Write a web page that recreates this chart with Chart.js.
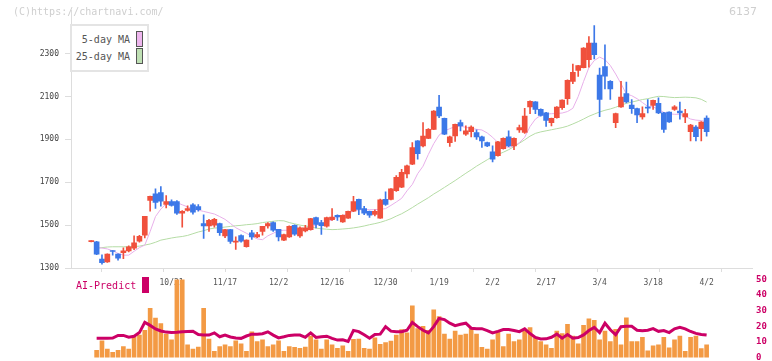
<!DOCTYPE html>
<html>
<head>
<meta charset="utf-8">
<script src="https://cdn.jsdelivr.net/npm/chart.js@4.4.1/dist/chart.umd.min.js"></script>
<style>
  body { margin: 0; background: #fff; }
  #wrap { position: relative; width: 772px; height: 361px; overflow: hidden; font-family: "DejaVu Sans Mono", monospace; }
  #wrap canvas { position: absolute; left: 0; }
  #priceChart { top: 0; }
  #volChart { top: 270px; }
  .txt { position: absolute; white-space: nowrap; font-size: 10px; line-height: 12px; }
  .sw { position: absolute; box-sizing: border-box; }
</style>
</head>
<body>
<div id="wrap">
  <canvas id="priceChart" width="772" height="300"></canvas>
  <canvas id="volChart" width="772" height="97"></canvas>

  <div class="txt" style="left:13px; top:6px; color:#cfcfcf;">(C)https://chartnavi.com/</div>
  <div class="txt" style="right:15px; top:6px; color:#cfcfcf; font-family:'DejaVu Sans', sans-serif; font-size:11px;">6137</div>

  <div class="sw" style="left:70px; top:24px; width:79px; height:48px; border:2px solid #e4e4e4; background:#fff;"></div>
  <div class="txt" style="left:70px; width:60px; text-align:right; top:34px; color:#555;">5-day MA</div>
  <div class="sw" style="left:136px; top:31px; width:7px; height:16px; background:#eeb6ee; border:1px solid #555;"></div>
  <div class="txt" style="left:70px; width:60px; text-align:right; top:51px; color:#555;">25-day MA</div>
  <div class="sw" style="left:136px; top:48px; width:7px; height:16px; background:#bfe0b4; border:1px solid #555;"></div>

  <div class="txt" style="left:76px; top:280px; color:#cc0066;">AI-Predict</div>
  <div class="sw" style="left:142px; top:277px; width:7px; height:16px; background:#cc0066;"></div>
</div>
<script>
// date labels (every 10 sessions) and where they sit
const tickIdx = [15, 25, 35, 45, 55, 65, 75, 85, 95, 105, 115];
const tickLabels = ['10/31', '11/17', '12/2', '12/16', '12/30', '1/19', '2/2', '2/17', '3/4', '3/18', '4/2'];
const priceTicks = [1300, 1500, 1700, 1900, 2100, 2300];
const volTicks = [0, 10, 20, 30, 40, 50];

const opens = [1423, 1422, 1342, 1328, 1380, 1365, 1371, 1380, 1393, 1425,
  1453, 1615, 1646, 1652, 1597, 1610, 1610, 1556, 1569, 1595,
  1587, 1507, 1496, 1500, 1507, 1450, 1479, 1421, 1451, 1399,
  1464, 1445, 1471, 1496, 1512, 1481, 1430, 1445, 1499, 1450,
  1473, 1479, 1535, 1512, 1495, 1526, 1546, 1515, 1533, 1565,
  1620, 1577, 1564, 1550, 1533, 1620, 1620, 1661, 1677, 1739,
  1785, 1893, 1870, 1905, 1947, 2051, 1998, 1885, 1916, 1978,
  1924, 1936, 1932, 1912, 1885, 1842, 1824, 1857, 1912, 1870,
  1944, 1932, 2051, 2075, 2040, 2024, 1978, 2001, 2048, 2090,
  2171, 2222, 2235, 2272, 2349, 2200, 2240, 2171, 1978, 2051,
  2114, 2060, 2044, 2005, 2049, 2058, 2068, 2024, 2027, 2040,
  2032, 2005, 1936, 1958, 1950, 2000];
const closes = [1427, 1365, 1325, 1365, 1377, 1346, 1380, 1399, 1417, 1448,
  1541, 1634, 1606, 1612, 1610, 1592, 1556, 1564, 1577, 1561,
  1572, 1496, 1522, 1527, 1465, 1479, 1424, 1425, 1425, 1430,
  1445, 1456, 1495, 1507, 1476, 1445, 1456, 1495, 1458, 1488,
  1488, 1530, 1503, 1498, 1535, 1538, 1538, 1546, 1564, 1610,
  1573, 1556, 1546, 1564, 1618, 1597, 1669, 1723, 1746, 1777,
  1862, 1834, 1916, 1947, 2032, 2009, 1924, 1912, 1970, 1963,
  1940, 1958, 1912, 1893, 1870, 1808, 1889, 1905, 1870, 1905,
  1955, 2009, 2078, 2040, 2012, 1989, 1998, 2051, 2083, 2176,
  2213, 2244, 2326, 2349, 2295, 2087, 2195, 2136, 2021, 2097,
  2075, 2043, 2014, 2020, 2046, 2082, 2024, 1947, 1981, 2052,
  2024, 2021, 1967, 1913, 1981, 1936];
const highs = [1428, 1425, 1362, 1366, 1381, 1366, 1394, 1404, 1450, 1452,
  1541, 1636, 1669, 1680, 1638, 1618, 1615, 1568, 1590, 1600,
  1596, 1548, 1527, 1532, 1510, 1481, 1481, 1445, 1455, 1432,
  1476, 1467, 1495, 1512, 1515, 1481, 1458, 1497, 1501, 1492,
  1499, 1532, 1537, 1522, 1537, 1577, 1548, 1548, 1566, 1634,
  1622, 1588, 1566, 1571, 1622, 1655, 1671, 1731, 1760, 1780,
  1885, 1895, 1978, 1950, 2034, 2106, 2000, 1915, 1972, 1990,
  1963, 1963, 1945, 1915, 1887, 1870, 1891, 1907, 1940, 1907,
  1967, 2045, 2080, 2077, 2043, 2026, 2000, 2053, 2085, 2178,
  2251, 2246, 2328, 2380, 2431, 2233, 2341, 2175, 2023, 2171,
  2167, 2086, 2046, 2052, 2086, 2084, 2094, 2026, 2029, 2058,
  2074, 2040, 1970, 1965, 1983, 2010];
const lows = [1422, 1362, 1318, 1326, 1360, 1337, 1343, 1375, 1385, 1420,
  1440, 1565, 1578, 1588, 1580, 1588, 1550, 1491, 1565, 1551,
  1565, 1438, 1471, 1490, 1452, 1441, 1415, 1387, 1420, 1397,
  1433, 1441, 1453, 1486, 1471, 1426, 1428, 1443, 1452, 1443,
  1468, 1477, 1487, 1457, 1490, 1522, 1522, 1513, 1531, 1563,
  1549, 1549, 1536, 1543, 1531, 1592, 1618, 1657, 1675, 1720,
  1782, 1808, 1865, 1903, 1945, 2001, 1922, 1867, 1890, 1940,
  1918, 1912, 1900, 1862, 1866, 1795, 1822, 1855, 1866, 1852,
  1932, 1928, 2020, 2020, 2008, 1960, 1963, 1999, 2040, 2063,
  2160, 2194, 2233, 2237, 2275, 2006, 2136, 2086, 1955, 2049,
  2070, 2021, 1978, 1994, 2024, 2040, 2020, 1932, 1979, 2035,
  1994, 1978, 1893, 1893, 1893, 1915];

const ma5 = [null, 1396, 1393, 1389, 1380, 1368, 1360, 1360, 1378, 1395,
  1407, 1470, 1540, 1575, 1600, 1607, 1605, 1595, 1585, 1577,
  1570, 1564, 1558, 1552, 1540, 1527, 1508, 1488, 1475, 1462,
  1448, 1436, 1432, 1450, 1462, 1474, 1476, 1476, 1477, 1479,
  1485, 1491, 1500, 1508, 1515, 1524, 1537, 1545, 1555, 1565,
  1572, 1572, 1572, 1572, 1574, 1577, 1592, 1608, 1625, 1660,
  1690, 1740, 1775, 1830, 1880, 1920, 1940, 1950, 1960, 1962,
  1956, 1952, 1947, 1944, 1930, 1910, 1885, 1870, 1862, 1868,
  1885, 1910, 1960, 1995, 2012, 2018, 2020, 2021, 2023, 2030,
  2045, 2100, 2170, 2235, 2268, 2284, 2272, 2245, 2205, 2160,
  2112, 2104, 2090, 2072, 2054, 2052, 2040, 2026, 2020, 2017,
  2017, 2008, 1995, 1990, 1988, 1981];
const ma25 = [null, 1392, 1395, 1398, 1399, 1399, 1399, 1399, 1400, 1402,
  1407, 1412, 1420, 1430, 1435, 1440, 1444, 1447, 1452, 1460,
  1468, 1474, 1482, 1486, 1488, 1491, 1494, 1497, 1499, 1502,
  1504, 1507, 1512, 1515, 1518, 1521, 1520, 1512, 1506, 1500,
  1496, 1492, 1486, 1483, 1481, 1479, 1480, 1482, 1484, 1487,
  1491, 1496, 1502, 1507, 1513, 1521, 1530, 1542, 1553, 1567,
  1582, 1598, 1613, 1628, 1645, 1660, 1676, 1692, 1708, 1725,
  1742, 1758, 1775, 1790, 1805, 1820, 1830, 1840, 1852, 1866,
  1882, 1898, 1915, 1928, 1935, 1940, 1945, 1950, 1955, 1962,
  1972, 1983, 1995, 2008, 2018, 2028, 2036, 2042, 2050, 2060,
  2068, 2074, 2080, 2086, 2090, 2096, 2101, 2100, 2097, 2095,
  2096, 2097, 2096, 2094, 2087, 2074];

const volume = [null, 4.6, 10.8, 5.4, 3.3, 4.6, 7.1, 5.4, 13.3, 14.4,
  17.5, 31.5, 25.2, 21.7, 15, 11.3, 60, 60, 8.1, 5.4,
  6.7, 31.5, 11.9, 4, 7.1, 8.1, 7.1, 10.8, 8.8, 4,
  16.5, 10.2, 11.3, 7.1, 8.1, 10.8, 4, 7.1, 6.5, 6,
  6.7, 13.8, 11.3, 5.4, 11.3, 8.1, 6, 7.5, 4, 11.7,
  11.9, 6, 5.4, 12.7, 8.5, 9.6, 10.6, 14.4, 17.9, 15.8,
  33.1, 18.5, 20, 17.5, 30.6, 26.3, 15, 11.9, 16.9, 14.4,
  15, 18.5, 15, 6.5, 5.4, 11.3, 16.9, 7.1, 15, 10.2,
  11.3, 16.9, 19.2, 12.7, 10.2, 8.1, 6, 16.9, 15.4, 21.3,
  13.8, 8.8, 20.6, 24.8, 23.8, 11.3, 16.9, 10.2, 18.1, 8.1,
  25.4, 10.2, 10.2, 12.9, 4.4, 7.5, 8.1, 12.9, 6.3, 11.3,
  13.8, 4, 12.9, 13.8, 5.8, 8.1];
const aiPredict = [null, 12.3, 12.3, 12.3, 12.5, 14.2, 14.2, 13, 13.6, 16,
  22.5, 20.6, 18.3, 17, 16.3, 16, 16.2, 16.5, 16.7, 16.9,
  14.8, 14.4, 14.4, 15.8, 13.3, 14.4, 13.2, 12.6, 12.3, 13.8,
  15, 15, 15.3, 16.5, 14.4, 12.6, 13.3, 14.2, 14.4, 14.4,
  13, 15.8, 12.9, 13.4, 13.7, 12.3, 11.2, 11.4, 10.3, 17.4,
  16.6, 14.6, 12.4, 14.8, 15, 19.8, 16.9, 16.6, 16.5, 17.5,
  22.5, 19.8, 17.5, 15.8, 19.8, 25, 24.3, 22, 20.4, 21.3,
  22, 18.8, 18.5, 18.5, 17.3, 15.8, 16.8, 17.9, 17.9, 17.3,
  16.6, 18.4, 15.4, 12.9, 11.9, 12, 13, 15, 12.4, 14.7,
  12.4, 12.8, 14.5, 17.3, 19.3, 16, 22, 17.8, 14.6, 19.7,
  20, 20, 17.5, 17.2, 17.5, 18.5, 16.8, 17.3, 16, 18.4,
  19.3, 18.4, 16.7, 15.5, 14.8, 14.4];

const X_MIN = -3.79;
const X_MAX = 123.48;
const UP = '#f0503c';
const DOWN = '#3c78e8';
const FONT = 'DejaVu Sans Mono';

const idx = opens.map((_, i) => i);
const candleColors = idx.map(i => closes[i] >= opens[i] ? UP : DOWN);

// Price chart
new Chart(document.getElementById('priceChart'), {
    data: {
        datasets: [{
            type: 'bar',
            data: idx.map(i => ({ x: i, y: [opens[i], closes[i]] })),
            backgroundColor: candleColors,
            barThickness: 5,
            minBarLength: 1,
            grouped: false
        }, {
            type: 'bar',
            data: idx.map(i => ({ x: i, y: [lows[i], highs[i]] })),
            backgroundColor: candleColors,
            barThickness: 1,
            grouped: false
        }, {
            type: 'line',
            data: idx.map(i => ({ x: i, y: ma5[i] })),
            borderColor: '#e8b0ea',
            borderWidth: 1,
            pointRadius: 0
        }, {
            type: 'line',
            data: idx.map(i => ({ x: i, y: ma25[i] })),
            borderColor: '#b5dca5',
            borderWidth: 1,
            pointRadius: 0
        }]
    },
    options: {
        responsive: false,
        animation: false,
        devicePixelRatio: 1,
        layout: { padding: { top: 9, right: 20, left: 0, bottom: 0 } },
        plugins: { legend: { display: false }, tooltip: { enabled: false } },
        scales: {
            x: {
                type: 'linear',
                min: X_MIN,
                max: X_MAX,
                offset: false,
                weight: 0,
                grid: { drawOnChartArea: false, color: '#dddddd', tickLength: 4 },
                border: { color: '#dddddd' },
                ticks: { display: false },
                afterBuildTicks: scale => {
                    const step = (X_MAX - X_MIN) / 11;
                    scale.ticks = Array.from({ length: 12 }, (_, k) => ({ value: X_MIN + k * step }));
                },
                afterFit: scale => { scale.height = 6; }
            },
            dates: {
                type: 'linear',
                position: 'bottom',
                min: X_MIN,
                max: X_MAX,
                offset: false,
                weight: 1,
                grid: { display: false, drawTicks: false },
                border: { display: false },
                ticks: {
                    color: '#555',
                    font: { family: FONT, size: 8 },
                    padding: 4,
                    maxRotation: 0,
                    autoSkip: false,
                    callback: v => tickLabels[tickIdx.indexOf(v)]
                },
                afterBuildTicks: scale => { scale.ticks = tickIdx.map(v => ({ value: v })); },
                afterFit: scale => { scale.height = 26; }
            },
            y: {
                min: 1300,
                max: 2500,
                grid: { drawOnChartArea: false, color: '#dddddd', tickLength: 6 },
                border: { color: '#dddddd' },
                ticks: { color: '#444', font: { family: FONT, size: 8 }, padding: 6, callback: v => String(v) },
                afterBuildTicks: scale => { scale.ticks = priceTicks.map(v => ({ value: v })); },
                afterFit: scale => { scale.width = 71; }
            }
        }
    }
});

// Volume / AI-Predict panel
new Chart(document.getElementById('volChart'), {
    data: {
        datasets: [{
            type: 'line',
            data: idx.map(i => ({ x: i, y: aiPredict[i] })),
            borderColor: '#cc0066',
            borderWidth: 3,
            pointRadius: 0
        }, {
            type: 'bar',
            data: idx.map(i => ({ x: i, y: volume[i] })),
            backgroundColor: '#f39a44',
            barThickness: 4,
            grouped: false
        }]
    },
    options: {
        responsive: false,
        animation: false,
        devicePixelRatio: 1,
        layout: { padding: { top: 8, right: 0, left: 71, bottom: 9 } },
        plugins: { legend: { display: false }, tooltip: { enabled: false } },
        scales: {
            x: { type: 'linear', min: X_MIN, max: X_MAX, offset: false, display: false },
            y: {
                position: 'right',
                min: 0,
                max: 50,
                grid: { display: false, drawTicks: false },
                border: { display: false },
                ticks: { color: '#cc0066', font: { family: FONT, size: 9, weight: 'bold' }, padding: 4, callback: v => String(v) },
                afterBuildTicks: scale => { scale.ticks = volTicks.map(v => ({ value: v })); },
                afterFit: scale => { scale.width = 20; }
            }
        }
    }
});
</script>
</body>
</html>
